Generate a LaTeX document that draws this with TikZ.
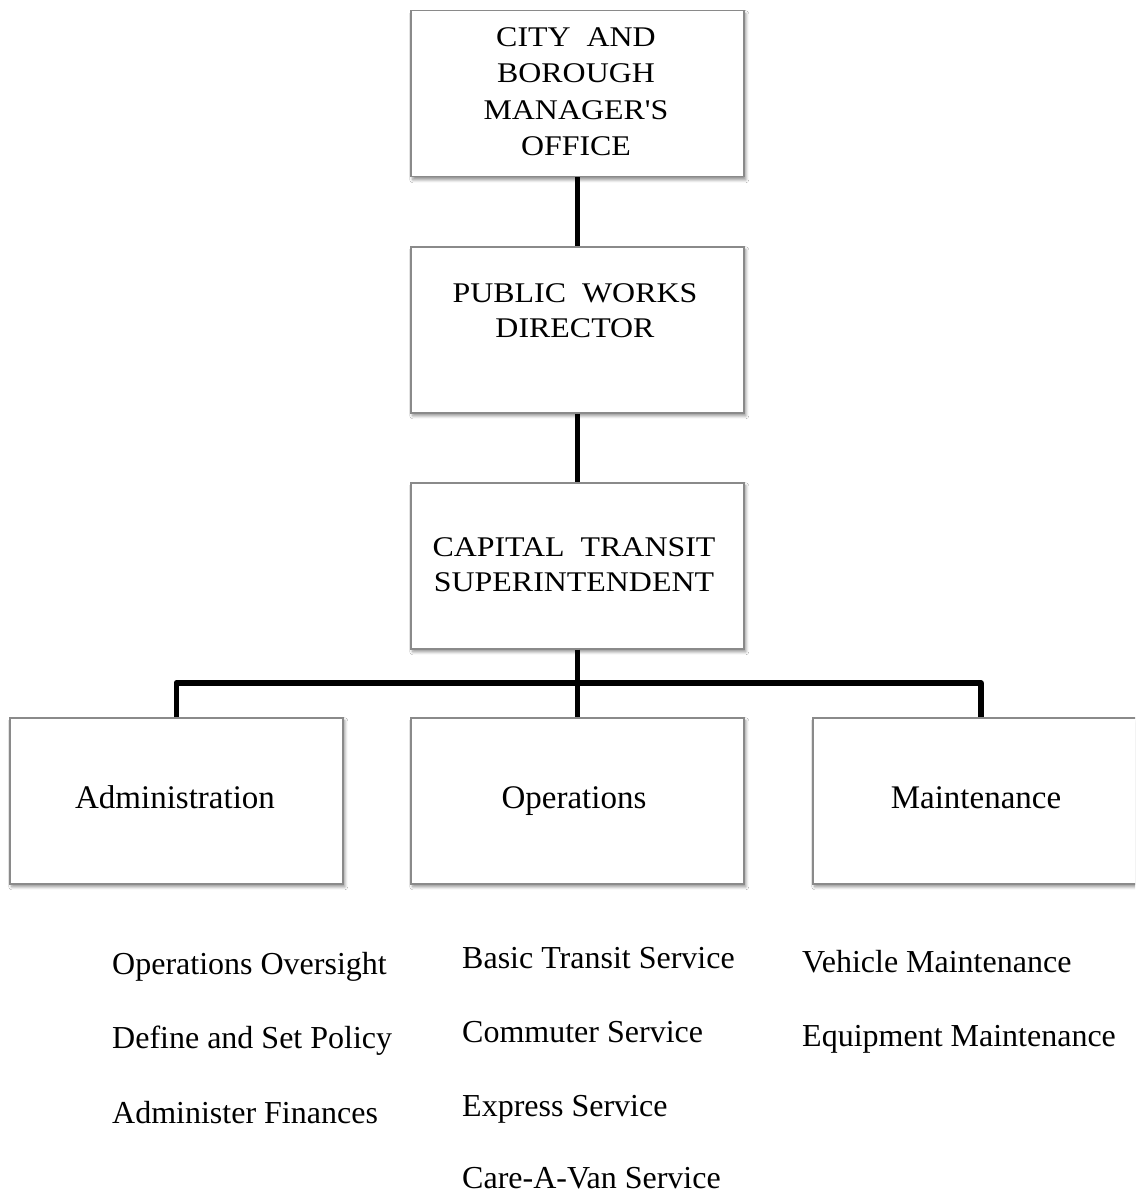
\documentclass[tikz,border=0pt]{standalone}
\usepackage{fontspec}
\setmainfont{Liberation Serif}
\newfontfamily\capfont[FakeStretch=1.12]{Liberation Serif}
\usetikzlibrary{shadows.blur}
\definecolor{boxedge}{HTML}{8A8A8A}
\tikzset{
  orgbox/.style={draw=boxedge, line width=1.5pt, fill=white,
    minimum width=333pt, minimum height=166pt, inner sep=0pt, anchor=north west,
    blur shadow={shadow xshift=2pt, shadow yshift=-3pt, shadow blur radius=3pt,
      shadow blur steps=6, shadow opacity=45}},
  captext/.style={font=\capfont\fontsize{28.5}{36}\selectfont, anchor=base, inner sep=0pt},
  unittext/.style={font=\fontsize{33}{40}\selectfont, anchor=base, inner sep=0pt},
  listtext/.style={font=\fontsize{32}{38}\selectfont, anchor=base west, inner sep=0pt},
  link/.style={line width=5.5pt, line join=round, draw=black}
}
\begin{document}
\begin{tikzpicture}[x=1pt,y=-1pt]
\clip (0,0) rectangle (1135,1193);
\fill[white] (0,0) rectangle (1135,1193);

% boxes
\node[orgbox] (mgr) at (410,10) {};
\node[orgbox] (pwd) at (410,246) {};
\node[orgbox] (cts) at (410,482) {};
\node[orgbox] (adm) at (9,717) {};
\node[orgbox] (ops) at (410,717) {};
\node[orgbox] (mnt) at (812,717) {};

% box texts
\node[captext] (mgr1) at (576,47) {CITY~~AND};
\node[captext] (mgr2) at (576,83) {BOROUGH};
\node[captext] (mgr3) at (576,120) {MANAGER'S};
\node[captext] (mgr4) at (576,156) {OFFICE};
\node[captext] (pwd1) at (575,302) {PUBLIC~~WORKS};
\node[captext] (pwd2) at (575,337) {DIRECTOR};
\node[captext] (cts1) at (574,556) {CAPITAL~~TRANSIT};
\node[captext] (cts2) at (574,591) {SUPERINTENDENT};
\node[unittext] (admt) at (175,808) {Administration};
\node[unittext] (opst) at (574,808) {Operations};
\node[unittext] (mntt) at (976,808) {Maintenance};

% connectors
\coordinate (bar) at (576.5,683);
\draw[link] (mgr.south) -- (pwd.north);
\draw[link] (pwd.south) -- (cts.north);
\draw[link] (cts.south) -- (ops.north);
\draw[link] (adm.north) |- (bar) -| ([xshift=1.5pt]mnt.north);

% lists
\node[listtext] (l11) at (112,974) {Operations Oversight};
\node[listtext] (l12) at (112,1048) {Define and Set Policy};
\node[listtext] (l13) at (112,1123) {Administer Finances};
\node[listtext] (l21) at (462,968) {Basic Transit Service};
\node[listtext] (l22) at (462,1042) {Commuter Service};
\node[listtext] (l23) at (462,1116) {Express Service};
\node[listtext] (l24) at (462,1188) {Care-A-Van Service};
\node[listtext] (l31) at (802,972) {Vehicle Maintenance};
\node[listtext] (l32) at (802,1046) {Equipment Maintenance};
\end{tikzpicture}
\end{document}
